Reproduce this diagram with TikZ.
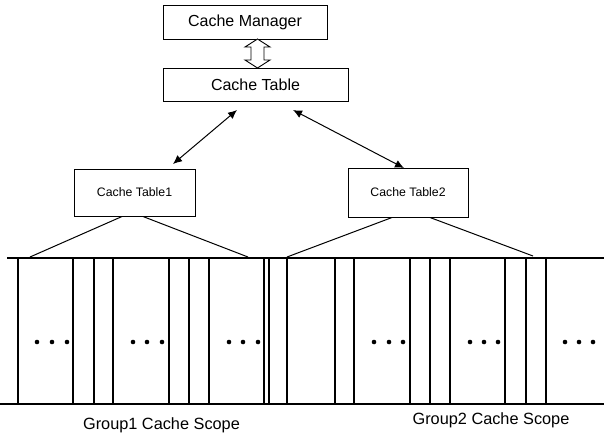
\documentclass[tikz,border=0pt]{standalone}
\usepackage{fontspec}
\setmainfont{Liberation Sans}
\usetikzlibrary{arrows.meta}
\begin{document}
\begin{tikzpicture}[x=1pt,y=-1pt,
  box/.style={draw,line width=1pt,inner sep=0pt,font=\fontsize{16}{18}\selectfont},
  smallbox/.style={draw,line width=1pt,inner sep=0pt,font=\fontsize{12.3}{14}\selectfont},
  link/.style={line width=1pt,{Latex[length=9pt,width=8pt]}-{Latex[length=9pt,width=8pt]}},
  fan/.style={line width=1pt},
  rule/.style={line width=1.1pt},
  dotmark/.style={fill,circle,inner sep=0pt,minimum size=4.6pt},
  lbl/.style={font=\fontsize{16.3}{18}\selectfont}]
\useasboundingbox[fill=white] (0,0) rectangle (604,437);
% top boxes
\node[box,minimum width=164pt,minimum height=34pt] (cm) at (245,22) {Cache Manager};
\node[box,minimum width=185pt,minimum height=33pt] (ct) at (255.5,84.5) {Cache Table};
% hollow double arrow
\draw[line width=0.9pt,fill=white] (cm.south -| 251,0) ++(0,0)
  (251,47) -- (245,47) -- (257.5,39) -- (270,47) -- (264,47) -- (264,60)
  -- (270,60) -- (257.5,68) -- (245,60) -- (251,60) -- cycle;
% second level
\node[smallbox,minimum width=121pt,minimum height=47pt] (ta) at (134.5,192.5) {Cache Table1};
\node[smallbox,minimum width=120pt,minimum height=49pt] (tb) at (408,192.5) {Cache Table2};
\coordinate (a1) at (237,110); \coordinate (a2) at (173,164);
\coordinate (b1) at (293,110); \coordinate (b2) at (404,168);
\draw[link] (a1) -- (a2);
\draw[link] (b1) -- (b2);
% fan lines
\coordinate (ta1) at (122,216.5); \coordinate (ta2) at (143,216.5);
\coordinate (tb1) at (392,217.5); \coordinate (tb2) at (430,217.5);
\coordinate (f1) at (30,257); \coordinate (f2) at (248,257);
\coordinate (f3) at (287,257); \coordinate (f4) at (533,256);
\draw[fan] (ta1) -- (f1) (ta2) -- (f2) (tb1) -- (f3) (tb2) -- (f4);
% scope area
\draw[rule] (7,258) -- (604,258);
\draw[rule] (0,404) -- (604,404);
\foreach \x in {18,73,94,113,169,189,209,269,287,335,354,410,430,450,505,526,546}
  \draw[rule] (\x,258) -- (\x,404);
\draw[line width=2pt] (263.5,258) -- (263.5,404);
\foreach \x in {37,52,67,133,147,162,229,243,258,374,389,403,470,484,498,565,579,593}
  \node[dotmark] at (\x,342) {};
% labels
\node[lbl] (g1) at (161.5,425) {Group1 Cache Scope};
\node[lbl] (g2) at (491,420) {Group2 Cache Scope};
\end{tikzpicture}
\end{document}
